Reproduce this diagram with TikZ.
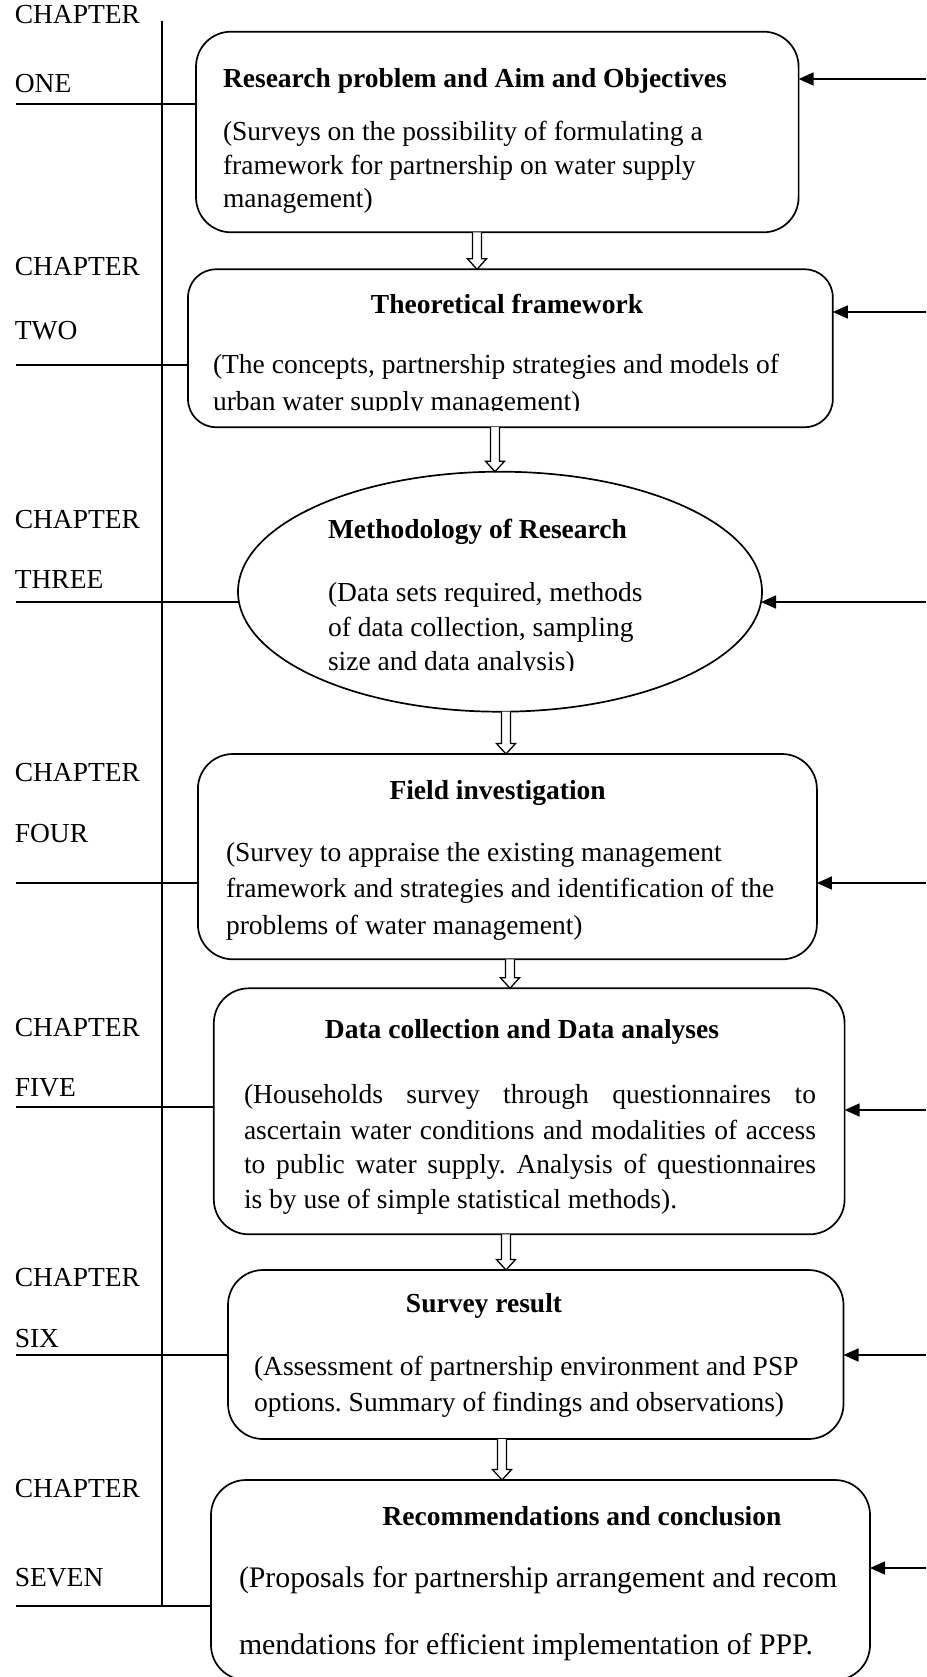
\documentclass[tikz,border=0pt]{standalone}
\usepackage{fontspec}
\setmainfont{Liberation Serif}
\usetikzlibrary{arrows.meta,shapes.geometric,calc}

% hollow block arrow pointing down from #1 to #2
\newcommand\hollowdown[2]{%
  \draw[blockarrow] let \p1=#1, \p2=#2 in
    (\x1-4.5pt,\y1) -- (\x1-4.5pt,\y2+10.5pt) -- (\x1-9.5pt,\y2+10.5pt) --
    (\x1,\y2) -- (\x1+9.5pt,\y2+10.5pt) -- (\x1+4.5pt,\y2+10.5pt) -- (\x1+4.5pt,\y1);}

\frenchspacing
\begin{document}
\begin{tikzpicture}[x=1pt,y=-1pt,
  every node/.style={font=\fontsize{27.5}{33}\selectfont, inner sep=0pt, outer sep=0pt},
  stage/.style={draw, line width=1.7pt, rectangle, rounded corners=35pt},
  oval/.style={draw, line width=1.7pt, ellipse},
  heading/.style={font=\fontsize{27.5}{33}\selectfont\bfseries},
  bigbody/.style={font=\fontsize{29.8}{36}\selectfont},
  chap/.style={anchor=base west},
  body/.style={anchor=base west},
  feed/.style={line width=1.7pt, -{Triangle[length=15pt,width=13pt]}},
  tie/.style={line width=1.7pt},
  blockarrow/.style={line width=1.3pt, fill=white, line join=miter}]

\useasboundingbox (0,0) rectangle (926,1677);

% ---------- stages ----------
\node[stage, minimum width=602.6pt, minimum height=200.6pt] (b1) at (497.3,132) {};
\node[stage, rounded corners=28pt, minimum width=644.8pt, minimum height=157.9pt] (b2) at (510.4,348.25) {};
\node[oval, minimum width=524pt, minimum height=240pt] (e3) at (500,591.7) {};
\node[stage, minimum width=619pt, minimum height=205.3pt] (b4) at (507.4,856.65) {};
\node[stage, minimum width=630.8pt, minimum height=246pt] (b5) at (529.2,1111.3) {};
\node[stage, minimum width=615.5pt, minimum height=169pt] (b6) at (535.75,1354.5) {};
\node[stage, minimum width=659pt, minimum height=200pt] (b7) at (540.5,1580) {};

% ---------- texts of the stages ----------
\node[body, heading] (h1) at (223,88) {Research problem and Aim and Objectives};
\node[body] (s1a) at (223,141) {(Surveys on the possibility of formulating a};
\node[body] (s1b) at (223,175) {framework for partnership on water supply};
\node[body] (s1c) at (223,208) {management)};

\node[anchor=base, heading] (h2) at (507,313) {Theoretical framework};
\node[body] (s2a) at (213,373) {(The concepts, partnership strategies and models of};
\begin{scope}
  \clip (180,380) rectangle (840,410.5);
  \node[body] (s2b) at (213,410) {urban water supply management)};
\end{scope}

\node[body, heading] (h3) at (328,538) {Methodology of Research};
\node[body] (s3a) at (328,601) {(Data sets required, methods};
\node[body] (s3b) at (328,636) {of data collection, sampling};
\begin{scope}
  \clip (300,640) rectangle (700,670.5);
  \node[body] (s3c) at (328,670) {size and data analysis)};
\end{scope}

\node[anchor=base, heading] (h4) at (497.6,799) {Field investigation};
\node[body] (s4a) at (226,861) {(Survey to appraise the existing management};
\node[body] (s4b) at (226,897) {framework and strategies and identification of the};
\node[body] (s4c) at (226,934) {problems of water management)};

\node[anchor=base, heading] (h5) at (522,1038) {Data collection and Data analyses};
\node[body] (s5a) at (244,1103) {\makebox[572pt][s]{(Households survey through questionnaires to}};
\node[body] (s5b) at (244,1139) {\makebox[572pt][s]{ascertain water conditions and modalities of access}};
\node[body] (s5c) at (244,1173) {\makebox[572pt][s]{to public water supply. Analysis of questionnaires}};
\node[body] (s5d) at (244,1208) {is by use of simple statistical methods).};

\node[anchor=base, heading] (h6) at (484,1312) {Survey result};
\node[body] (s6a) at (254,1375) {(Assessment of partnership environment and PSP};
\node[body] (s6b) at (254,1411) {options. Summary of findings and observations)};

\node[anchor=base, heading] (h7) at (582,1525) {Recommendations and conclusion};
\node[body, bigbody] (s7a) at (239,1587) {(Proposals for partnership arrangement and recom};
\node[body, bigbody] (s7b) at (239,1654) {mendations for efficient implementation of PPP.};

% ---------- chapter labels ----------
\node[chap] (c1a) at (14.8,24) {CHAPTER};
\node[chap] (c1b) at (14.8,92.4) {ONE};
\node[chap] (c2a) at (14.8,276) {CHAPTER};
\node[chap] (c2b) at (14.8,339) {TWO};
\node[chap] (c3a) at (14.8,528) {CHAPTER};
\node[chap] (c3b) at (14.8,588) {THREE};
\node[chap] (c4a) at (14.8,781) {CHAPTER};
\node[chap] (c4b) at (14.8,842) {FOUR};
\node[chap] (c5a) at (14.8,1036) {CHAPTER};
\node[chap] (c5b) at (14.8,1096) {FIVE};
\node[chap] (c6a) at (14.8,1286) {CHAPTER};
\node[chap] (c6b) at (14.8,1347) {SIX};
\node[chap] (c7a) at (14.8,1497) {CHAPTER};
\node[chap] (c7b) at (14.8,1586) {SEVEN};

% ---------- spine and chapter ties ----------
\coordinate (spTop) at (162,21.5);
\coordinate (spBot) at (162,1606);
\draw[tie] (spTop) -- (spBot);

\coordinate (l1) at (16,104);
\coordinate (l2) at (16,365);
\coordinate (l3) at (16,602);
\coordinate (l4) at (16,883);
\coordinate (l5) at (16,1107);
\coordinate (l6) at (16,1355);
\coordinate (l7) at (16,1606);
\draw[tie] (l1) -- (l1 -| b1.west);
\draw[tie] (l2) -- (l2 -| b2.west);
\draw[tie] (l3) -- ($(l3 -| e3.west)+(1,0)$);
\draw[tie] (l4) -- (l4 -| b4.west);
\draw[tie] (l5) -- (l5 -| b5.west);
\draw[tie] (l6) -- (l6 -| b6.west);
\draw[tie] (l7) -- (l7 -| b7.west);

% ---------- feedback arrows from the right ----------
\coordinate (r1) at (926,79);
\coordinate (r2) at (926,312);
\coordinate (r3) at (926,602);
\coordinate (r4) at (926,883);
\coordinate (r5) at (926,1110);
\coordinate (r6) at (926,1355);
\coordinate (r7) at (926,1568);
\draw[feed] (r1) -- (r1 -| b1.east);
\draw[feed] (r2) -- (r2 -| b2.east);
\draw[feed] (r3) -- ($(r3 -| e3.east)+(-1,0)$);
\draw[feed] (r4) -- (r4 -| b4.east);
\draw[feed] (r5) -- (r5 -| b5.east);
\draw[feed] (r6) -- (r6 -| b6.east);
\draw[feed] (r7) -- (r7 -| b7.east);

% ---------- flow between stages ----------
\coordinate (f12) at (477,0);
\coordinate (f23) at (495,0);
\coordinate (f34) at (506,0);
\coordinate (f45) at (510,0);
\coordinate (f56) at (506,0);
\coordinate (f67) at (502,0);
\hollowdown{(b1.south -| f12)}{(b2.north -| f12)}
\hollowdown{(b2.south -| f23)}{(e3.north -| f23)}
\hollowdown{(e3.south -| f34)}{(b4.north -| f34)}
\hollowdown{(b4.south -| f45)}{(b5.north -| f45)}
\hollowdown{(b5.south -| f56)}{(b6.north -| f56)}
\hollowdown{(b6.south -| f67)}{(b7.north -| f67)}

\end{tikzpicture}
\end{document}
